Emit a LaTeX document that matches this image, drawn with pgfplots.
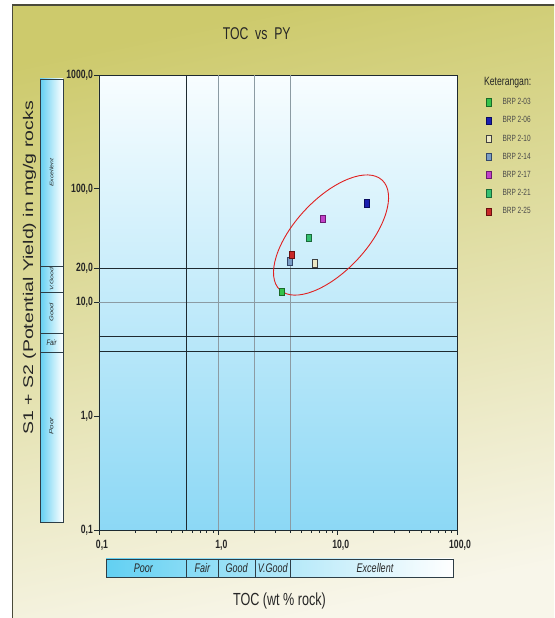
\documentclass[border=0pt]{standalone}
\usepackage{pgfplots}
\pgfplotsset{compat=1.18}
\usepackage{graphicx}
\usepackage{fontspec}
\setmainfont{Liberation Sans}[FakeStretch=0.72]
\newfontfamily\upright{Liberation Sans}

\definecolor{bgTop}{HTML}{CDCA6C}
\definecolor{bgMid}{HTML}{E4E1A6}
\definecolor{bgBot}{HTML}{F8F6EA}
\definecolor{frameC}{HTML}{4A4A3A}
\definecolor{bandL}{HTML}{62D0F2}
\definecolor{bandD}{HTML}{2E3E46}
\definecolor{plotTop}{HTML}{F8FDFF}
\definecolor{plotMid}{HTML}{CFEFFB}
\definecolor{plotBot}{HTML}{8CD8F5}
\definecolor{darkLine}{HTML}{1E2A30}
\definecolor{greyLine}{HTML}{8C9BA3}
\definecolor{ellC}{HTML}{E02020}
\definecolor{txt}{HTML}{262626}
\definecolor{legTxt}{HTML}{4A4A4A}
% sample colours (fill / edge)
\definecolor{fA}{HTML}{35C24A}\definecolor{dA}{HTML}{1A6A28}
\definecolor{fB}{HTML}{1A1FB0}\definecolor{dB}{HTML}{0A0C60}
\definecolor{fC}{HTML}{EDE8C4}\definecolor{dC}{HTML}{404040}
\definecolor{fD}{HTML}{7A9CC4}\definecolor{dD}{HTML}{34486A}
\definecolor{fE}{HTML}{C040C8}\definecolor{dE}{HTML}{6A1A70}
\definecolor{fF}{HTML}{34C070}\definecolor{dF}{HTML}{1A6A3A}
\definecolor{fG}{HTML}{C82828}\definecolor{dG}{HTML}{6A1010}

\pgfplotsset{
  sample/.style 2 args={only marks, mark=square*, mark size=3.6pt,
    mark options={xscale=0.72, fill=#1, draw=#2, line width=0.6pt}},
}

\begin{document}
\begin{tikzpicture}[x=1pt,y=1pt]
\useasboundingbox (0,0) rectangle (554,618);
\begin{scope}
  \clip (0,0) rectangle (554,618);
  \fill[white] (0,0) rectangle (554,618);
  \shade[top color=bgTop, middle color=bgMid, bottom color=bgBot, shading angle=12]
    (12.5,-5) rectangle (560,613);
  \draw[frameC, line width=1.3pt] (12.5,-5) -- (12.5,613) -- (560,613);
\end{scope}

% title and axis titles
\node[txt] at (256.7,584.3) {\fontsize{17}{18}\selectfont TOC\ \ vs\ \ PY};
\node[txt] at (279.5,17.3) {\fontsize{17.5}{18}\selectfont TOC (wt \% rock)};
\node[txt, rotate=90] at (29.5,350)
  {\upright\fontsize{19.5}{20}\selectfont\scalebox{1}[0.72]{S1 + S2 (Potential Yield) in mg/g rocks}};

% TOC classes
\shade[left color=bandL, right color=white] (106,40.3) rectangle (453,59);
\draw[bandD, line width=0.8pt] (106,40.3) rectangle (453,59);
\foreach \xx in {186,218.3,255,290.7} \draw[bandD, line width=0.8pt] (\xx,40.3) -- (\xx,59);
\begin{scope}[every node/.style={txt, font=\itshape\fontsize{12.5}{13}\selectfont}]
  \node at (143.3,49.6) {Poor};
  \node at (202.3,49.6) {Fair};
  \node at (236.7,49.6) {Good};
  \node at (272.7,49.6) {V.Good};
  \node at (375,49.6) {Excellent};
\end{scope}

% potential yield classes
\shade[left color=bandL, right color=white] (40,96) rectangle (63,539);
\draw[bandD, line width=0.8pt] (40,96) rectangle (63,539);
\foreach \yy in {352,326,285,266} \draw[bandD, line width=0.8pt] (40,\yy) -- (63,\yy);
\begin{scope}[every node/.style={txt, rotate=90}]
  \node at (51.5,445.5) {\upright\itshape\fontsize{7}{8}\selectfont\scalebox{1}[0.72]{Excellent}};
  \node at (51.5,339) {\upright\itshape\fontsize{7}{8}\selectfont\scalebox{1}[0.72]{V.Good}};
  \node at (51.5,305.5) {\upright\itshape\fontsize{7.5}{8}\selectfont\scalebox{1}[0.72]{Good}};
  \node at (51.5,192) {\upright\itshape\fontsize{8}{9}\selectfont\scalebox{1}[0.72]{Poor}};
\end{scope}
\node[txt] at (51.5,275.5) {\itshape\fontsize{8}{9}\selectfont Fair};

\node[txt] at (507.7,535.3) {\fontsize{12}{13}\selectfont Keterangan:};

\begin{axis}[
  at={(99pt,88pt)}, anchor=south west,
  width=358pt, height=455pt, scale only axis,
  xmode=log, ymode=log,
  xmin=0.1, xmax=100, ymin=0.1, ymax=1000,
  xtick={0.1,1,10,100},
  xticklabels={{0,1},{1,0},{10,0},{100,0}},
  ytick={0.1,1,10,20,100,1000},
  yticklabels={{0,1},{1,0},{10,0},{20,0},{100,0},{1000,0}},
  minor xtick={}, minor ytick={},
  tick align=outside, tick pos=left, major tick length=5pt,
  tick style={darkLine, line width=0.6pt},
  axis line style={darkLine, line width=0.8pt},
  /pgf/number format/assume math mode=true,
  ticklabel style={txt, font=\bfseries\fontsize{12}{13}\selectfont},
  yticklabel style={inner sep=1pt},
  xticklabel style={inner sep=2pt, xshift=3pt, yshift=-3pt},
  axis background/.style={shade, top color=plotTop, middle color=plotMid, bottom color=plotBot},
  legend style={draw=none, fill=none, at={(1.082,0.949)}, anchor=north west,
    inner sep=0pt, outer sep=0pt, row sep=10.2pt, column sep=11pt,
    font=\fontsize{9}{10}\selectfont, text=legTxt,
    nodes={inner sep=0pt, text height=6.5pt, text depth=1.5pt}},
  legend cell align=left,
  legend image code/.code={\draw[#1] plot coordinates {(0pt,0pt)};},
]
% class boundaries
\addplot[forget plot, greyLine, line width=0.8pt] coordinates {(1,0.1) (1,1000)};
\addplot[forget plot, greyLine, line width=0.8pt] coordinates {(2,0.1) (2,1000)};
\addplot[forget plot, greyLine, line width=0.8pt] coordinates {(4,0.1) (4,1000)};
\addplot[forget plot, greyLine, line width=0.8pt] coordinates {(0.1,10) (100,10)};
\addplot[forget plot, darkLine, line width=1.2pt] coordinates {(0.54,0.1) (0.54,1000)};
\addplot[forget plot, darkLine, line width=1.2pt] coordinates {(0.1,20) (100,20)};
\addplot[forget plot, darkLine, line width=1.2pt] coordinates {(0.1,5) (100,5)};
\addplot[forget plot, darkLine, line width=1.2pt] coordinates {(0.1,3.7) (100,3.7)};

% samples: TOC (wt %), S1+S2 (mg/g)
\addplot[sample={fA}{dA}] coordinates {(3.4,12.5)};
\addlegendentry{BRP 2-03}
\addplot[sample={fB}{dB}] coordinates {(17.5,74.5)};
\addlegendentry{BRP 2-06}
\addplot[sample={fC}{dC}] coordinates {(6.4,22.1)};
\addlegendentry{BRP 2-10}
\addplot[sample={fD}{dD}] coordinates {(3.96,23.0)};
\addlegendentry{BRP 2-14}
\addplot[sample={fE}{dE}] coordinates {(7.5,54.0)};
\addlegendentry{BRP 2-17}
\addplot[sample={fF}{dF}] coordinates {(5.7,37.0)};
\addlegendentry{BRP 2-21}
\addplot[sample={fG}{dG}] coordinates {(4.1,26.2)};
\addlegendentry{BRP 2-25}

\draw[ellC, line width=0.9pt, rotate around={47:(axis cs:8.8,39.2)}]
  (axis cs:8.8,39.2) ellipse [x radius=75pt, y radius=36pt];
\end{axis}
\end{tikzpicture}
\end{document}
